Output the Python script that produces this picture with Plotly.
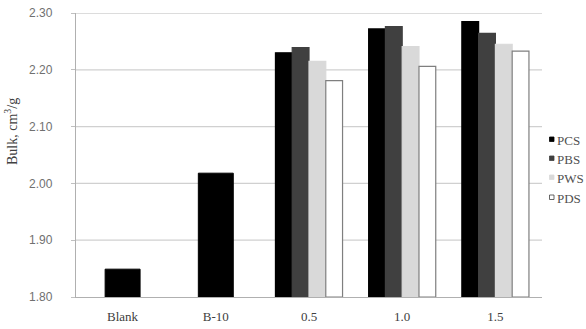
import plotly.graph_objects as go

control_cats = ["Blank", "B-10"]
control_vals = [1.849, 2.018]

group_cats = ["0.5", "1.0", "1.5"]
series_names = ["PCS", "PBS", "PWS", "PDS"]
pcs = [2.230, 2.272, 2.285]
pbs = [2.239, 2.276, 2.264]
pws = [2.215, 2.241, 2.245]
pds = [2.181, 2.206, 2.233]
series_vals = [pcs, pbs, pws, pds]

all_cats = control_cats + group_cats
y_ticks = [1.80, 1.90, 2.00, 2.10, 2.20, 2.30]

fills = ["#000000", "#404040", "#d9d9d9", "#ffffff"]
edges = ["#000000", "#404040", "#d9d9d9", "#7f7f7f"]

W, H = 586, 329
L, R, T, B = 76, 44, 13, 32
PW = W - L - R
PH = H - T - B


def px_x(p):
    return (p - L) / PW


def px_y(p):
    return (H - B - p) / PH


fig = go.Figure()
fig.add_trace(go.Bar(
    x=control_cats, y=[v - 1.8 for v in control_vals], base=1.8,
    width=0.375, offset=-0.1875,
    marker=dict(color="#000000", line=dict(color="#000000", width=1)),
    showlegend=False,
))
bw = 0.18
for i, (name, vals) in enumerate(zip(series_names, series_vals)):
    fig.add_trace(go.Bar(
        x=group_cats, y=[v - 1.8 for v in vals], base=1.8, name=name,
        width=bw, offset=-2 * bw + i * bw, showlegend=False,
        marker=dict(color=fills[i], line=dict(color=edges[i], width=1.2)),
    ))

shapes = []
annotations = []

# horizontal gridlines across the plot area only
for v in y_ticks[1:]:
    shapes.append(dict(type="line", xref="x domain", yref="y", x0=0, x1=1, y0=v, y1=v,
                       layer="below", line=dict(color="#d0d0d0", width=1.3)))

# manual legend (small square markers like the reference)
legend_y = [140, 159, 178, 198]
for name, fc, ec, ly in zip(series_names, fills, edges, legend_y):
    shapes.append(dict(type="rect", xref="paper", yref="paper",
                       x0=px_x(549.5), x1=px_x(554), y0=px_y(ly - 3), y1=px_y(ly + 1.5),
                       fillcolor=fc, line=dict(color=ec if name != "PDS" else "#404040", width=0.8)))
    annotations.append(dict(text=name, xref="paper", yref="paper",
                            x=px_x(555), y=px_y(ly), xanchor="left", yanchor="middle",
                            showarrow=False,
                            font=dict(family="Liberation Serif", size=13, color="#505050")))

annotations.append(dict(text="Bulk, cm<sup>3</sup>/g", textangle=-90, xref="paper", yref="paper",
                        x=px_x(11), y=px_y(132), xanchor="center", yanchor="middle",
                        showarrow=False,
                        font=dict(family="Liberation Serif", size=14, color="#404040")))
annotations.append(dict(text="Addition content, %", xref="paper", yref="paper",
                        x=px_x(309), y=px_y(324), xanchor="center", yanchor="top",
                        showarrow=False,
                        font=dict(family="Liberation Serif", size=13, color="#404040")))

fig.update_layout(
    width=W, height=H,
    margin=dict(l=L, r=R, t=T, b=B, autoexpand=False),
    plot_bgcolor="white", paper_bgcolor="white",
    barmode="overlay",
    font=dict(family="Liberation Serif", size=12, color="#404040"),
    showlegend=False,
    xaxis=dict(type="category", categoryorder="array", categoryarray=all_cats,
               showline=True, linecolor="#b0b0b0", linewidth=1.3,
               showgrid=False, ticks="",
               tickfont=dict(family="Liberation Serif", size=13, color="#404040"),
               ticklabelstandoff=7, range=[-0.5, 4.5]),
    yaxis=dict(range=[1.8, 2.3], tickvals=y_ticks,
               ticktext=[f"{v:.2f}" for v in y_ticks],
               showgrid=False,
               showline=True, linecolor="#b0b0b0", linewidth=1.3,
               ticks="outside", ticklen=4, tickcolor="#c0c0c0",
               tickfont=dict(family="Liberation Sans", size=12, color="#707070"),
               ticklabelstandoff=16, zeroline=False),
    shapes=shapes,
    annotations=annotations,
)

fig.write_html("out.html")
